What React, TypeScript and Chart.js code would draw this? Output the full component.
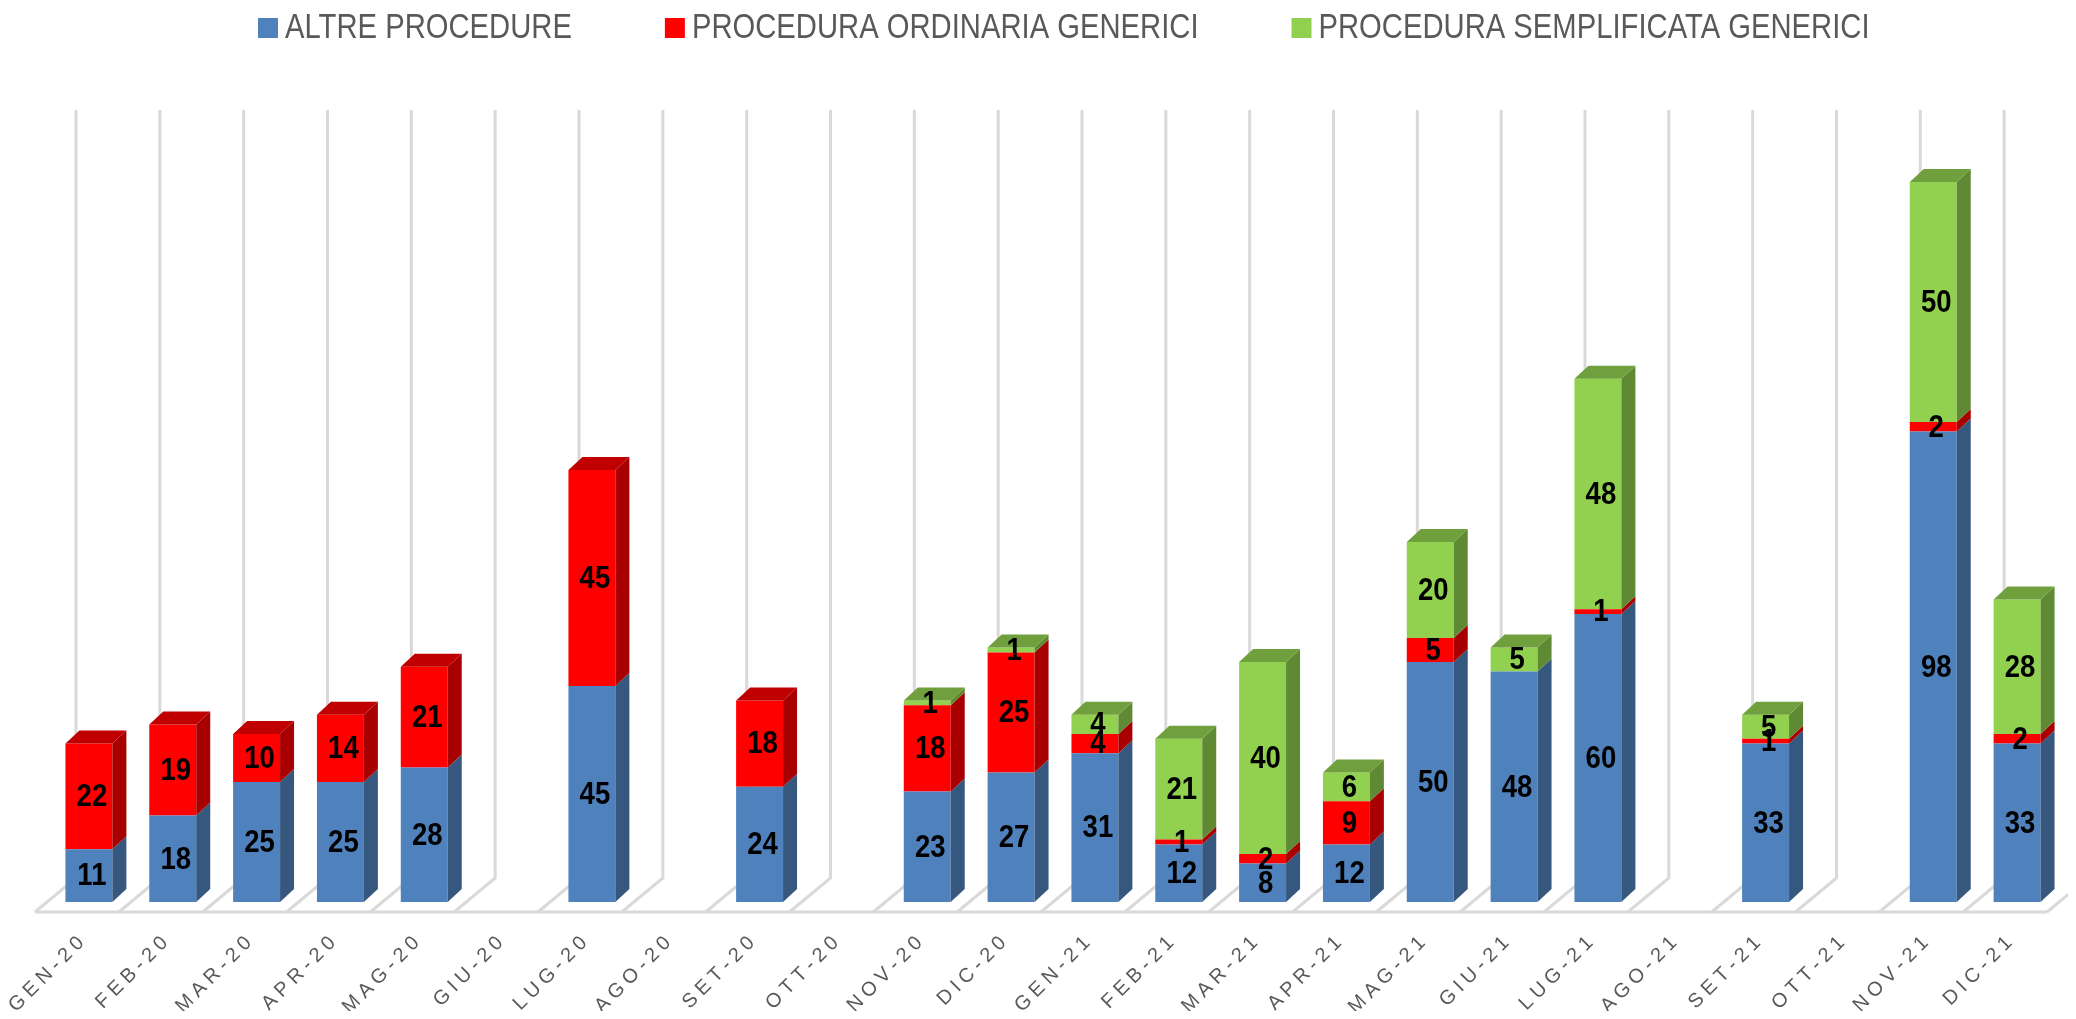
import React, { useEffect, useRef } from "react";
import { Chart, registerables } from "chart.js";

Chart.register(...registerables);

const categories = [
  "GEN-20", "FEB-20", "MAR-20", "APR-20", "MAG-20", "GIU-20",
  "LUG-20", "AGO-20", "SET-20", "OTT-20", "NOV-20", "DIC-20",
  "GEN-21", "FEB-21", "MAR-21", "APR-21", "MAG-21", "GIU-21",
  "LUG-21", "AGO-21", "SET-21", "OTT-21", "NOV-21", "DIC-21",
];

const altreProcedure = [11, 18, 25, 25, 28, null, 45, null, 24, null, 23, 27, 31, 12, 8, 12, 50, 48, 60, null, 33, null, 98, 33];
const proceduraOrdinaria = [22, 19, 10, 14, 21, null, 45, null, 18, null, 18, 25, 4, 1, 2, 9, 5, null, 1, null, 1, null, 2, 2];
const proceduraSemplificata = [null, null, null, null, null, null, null, null, null, null, 1, 1, 4, 21, 40, 6, 20, 5, 48, null, 5, null, 50, 28];

const seriesNames = ["ALTRE PROCEDURE", "PROCEDURA ORDINARIA GENERICI", "PROCEDURA SEMPLIFICATA GENERICI"];
const seriesValues = [altreProcedure, proceduraOrdinaria, proceduraSemplificata];

const frontColors = ["#4F81BD", "#FF0000", "#92D050"];
const sideColors = ["#36587F", "#A80000", "#5F8A33"];
const topColors = ["#4674AB", "#C00000", "#70A03E"];

const Y_MAX = 160;

// 3D geometry (pixels)
const BAR_DX = 14;
const BAR_DY = 13;
const WALL_DX = 29;
const WALL_DY = 24;
const FLOOR_DX = 12;
const FLOOR_DY = 10;

const SANS = "'Liberation Sans', Arial, sans-serif";
const NARROW_SCALE = 0.835;
const TICK_SPACING = 5;

function fillScaled(ctx: CanvasRenderingContext2D, text: string, x: number, y: number, sx: number) {
  ctx.save();
  ctx.translate(x, y);
  ctx.scale(sx, 1);
  ctx.fillText(text, 0, 0);
  ctx.restore();
}

const threeDPlugin = {
  id: "threeD",
  beforeDatasetsDraw(chart: any) {
    const ctx = chart.ctx;
    const xs = chart.scales.x;
    const ys = chart.scales.y;
    const n = categories.length;
    const c0 = xs.getPixelForValue(0);
    const step = xs.getPixelForValue(1) - c0;
    const base = ys.getPixelForValue(0);
    const top = ys.getPixelForValue(Y_MAX);
    ctx.save();
    ctx.strokeStyle = "#D9D9D9";
    ctx.lineWidth = 3;
    ctx.lineJoin = "round";
    for (let k = 0; k <= n; k++) {
      const bx = c0 + (k - 0.5) * step;
      ctx.beginPath();
      ctx.moveTo(bx + WALL_DX, top - WALL_DY);
      ctx.lineTo(bx + WALL_DX, base - WALL_DY);
      ctx.lineTo(bx - FLOOR_DX, base + FLOOR_DY);
      ctx.stroke();
    }
    ctx.beginPath();
    ctx.moveTo(c0 - 0.5 * step - FLOOR_DX, base + FLOOR_DY);
    ctx.lineTo(c0 + (n - 0.5) * step - FLOOR_DX, base + FLOOR_DY);
    ctx.stroke();
    ctx.restore();
  },
  afterDatasetsDraw(chart: any) {
    const ctx = chart.ctx;
    const n = categories.length;
    const topIndex: number[] = [];
    for (let i = 0; i < n; i++) {
      let t = -1;
      seriesValues.forEach((arr, d) => {
        if (arr[i] != null && (arr[i] as number) > 0) t = d;
      });
      topIndex.push(t);
    }
    ctx.save();
    seriesValues.forEach((arr, d) => {
      const meta = chart.getDatasetMeta(d);
      meta.data.forEach((el: any, i: number) => {
        const v = arr[i];
        if (v == null || v <= 0) return;
        const { x, y, base, width } = el.getProps(["x", "y", "base", "width"], true);
        const left = x - width / 2;
        const right = x + width / 2;
        ctx.fillStyle = sideColors[d];
        ctx.beginPath();
        ctx.moveTo(right, y);
        ctx.lineTo(right + BAR_DX, y - BAR_DY);
        ctx.lineTo(right + BAR_DX, base - BAR_DY);
        ctx.lineTo(right, base);
        ctx.closePath();
        ctx.fill();
        if (topIndex[i] === d) {
          ctx.fillStyle = topColors[d];
          ctx.beginPath();
          ctx.moveTo(left, y);
          ctx.lineTo(left + BAR_DX, y - BAR_DY);
          ctx.lineTo(right + BAR_DX, y - BAR_DY);
          ctx.lineTo(right, y);
          ctx.closePath();
          ctx.fill();
        }
      });
    });
    ctx.fillStyle = "#000000";
    ctx.font = `bold 32px ${SANS}`;
    ctx.textAlign = "center";
    ctx.textBaseline = "middle";
    seriesValues.forEach((arr, d) => {
      const meta = chart.getDatasetMeta(d);
      meta.data.forEach((el: any, i: number) => {
        const v = arr[i];
        if (v == null || v <= 0) return;
        const { x, y, base } = el.getProps(["x", "y", "base"], true);
        fillScaled(ctx, String(v), x + 3, (y + base) / 2 + 1, 0.86);
      });
    });
    ctx.restore();
  },
  afterDraw(chart: any) {
    const ctx = chart.ctx;
    const xs = chart.scales.x;
    const ys = chart.scales.y;
    const base = ys.getPixelForValue(0);
    ctx.save();
    // category labels (rotated 45 degrees, letter-spaced)
    ctx.fillStyle = "#595959";
    ctx.font = `20px ${SANS}`;
    ctx.textAlign = "left";
    ctx.textBaseline = "middle";
    const ang = Math.PI / 4;
    const ux = Math.cos(ang);
    const uy = -Math.sin(ang);
    categories.forEach((label, i) => {
      const x = xs.getPixelForValue(i);
      const chars = label.split("");
      const widths = chars.map((c) => ctx.measureText(c).width);
      const total = widths.reduce((a, b) => a + b, 0) + TICK_SPACING * (chars.length - 1);
      const ax = x - 8;
      const ay = base + 38;
      let px = -total;
      chars.forEach((c, j) => {
        const gx = ax + px * ux;
        const gy = ay + px * uy;
        ctx.save();
        ctx.setTransform(ux, uy, -uy, ux, gx, gy);
        ctx.fillText(c, 0, 0);
        ctx.restore();
        px += widths[j] + TICK_SPACING;
      });
    });
    // legend
    ctx.font = `35px ${SANS}`;
    ctx.textAlign = "left";
    ctx.textBaseline = "middle";
    let cx = 250;
    const cy = 20;
    seriesNames.forEach((name, d) => {
      ctx.fillStyle = frontColors[d];
      ctx.fillRect(cx, cy - 10, 20, 20);
      cx += 27;
      ctx.fillStyle = "#595959";
      fillScaled(ctx, name, cx, cy, NARROW_SCALE);
      cx += ctx.measureText(name).width * NARROW_SCALE + 93;
    });
    ctx.restore();
  },
};

export default function App() {
  const canvasRef = useRef<HTMLCanvasElement | null>(null);

  useEffect(() => {
    const canvas = canvasRef.current;
    if (!canvas) return;
    const chart = new Chart(canvas, {
      type: "bar",
      data: {
        labels: categories,
        datasets: seriesValues.map((arr, d) => ({
          label: seriesNames[d],
          data: arr,
          backgroundColor: frontColors[d],
          borderWidth: 0,
          barPercentage: 0.56,
          categoryPercentage: 1,
        })),
      },
      options: {
        animation: false,
        responsive: false,
        maintainAspectRatio: false,
        devicePixelRatio: 1,
        layout: { padding: { top: 126, bottom: 109, left: 39, right: 9 } },
        plugins: {
          legend: { display: false },
          tooltip: { enabled: false },
        },
        scales: {
          x: { stacked: true, display: false },
          y: { stacked: true, display: false, min: 0, max: Y_MAX },
        },
      },
      plugins: [threeDPlugin],
    });
    return () => chart.destroy();
  }, []);

  return (
    <div style={{ width: 2060, height: 1003 }}>
      <canvas ref={canvasRef} width={2060} height={1003} style={{ display: "block" }} />
    </div>
  );
}
